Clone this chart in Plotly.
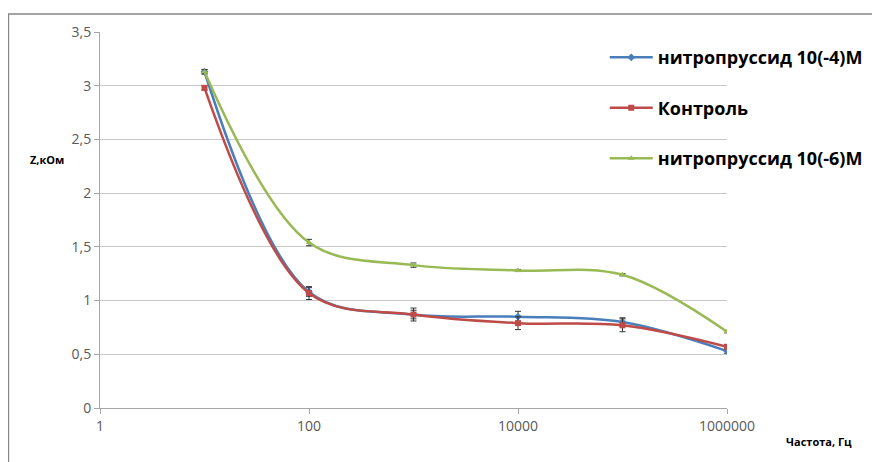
import plotly.graph_objects as go

freq = [10, 100, 1000, 10000, 100000, 1000000]
nitro4 = [3.13, 1.08, 0.87, 0.85, 0.80, 0.53]
control = [2.98, 1.07, 0.87, 0.79, 0.77, 0.57]
nitro6 = [3.13, 1.54, 1.33, 1.28, 1.24, 0.71]
err_nitro4 = [0.02, 0.04, 0.04, 0.05, 0.04, 0.02]
err_control = [0.02, 0.06, 0.06, 0.06, 0.06, 0.02]
err_nitro6 = [0.02, 0.03, 0.02, 0.01, 0.01, 0.01]

names = ["нитропруссид 10(-4)М", "Контроль", "нитропруссид 10(-6)М"]
colors = ["#4A7EBB", "#BE4B48", "#98B954"]
symbols = ["diamond", "square", "triangle-up"]

x_tickvals = [1, 100, 10000, 1000000]
x_ticktext = ["1", "100", "10000", "1000000"]

fig = go.Figure()
for i, (ys, es) in enumerate([(nitro4, err_nitro4), (control, err_control), (nitro6, err_nitro6)]):
    fig.add_trace(go.Scatter(
        x=freq, y=ys, name=names[i], mode="lines+markers",
        line=dict(color=colors[i], width=2.5, shape="spline", smoothing=1.0),
        marker=dict(color=colors[i], symbol=symbols[i], size=6),
        error_y=dict(type="data", array=es, visible=True, color="#333333", thickness=1, width=3),
        legendgroup=f"g{i}",
    ))

fig.update_layout(
    width=872, height=454,
    margin=dict(l=92, r=150, t=24, b=54),
    paper_bgcolor="white", plot_bgcolor="white",
    separators=", ",
    font=dict(family="Open Sans, DejaVu Sans, sans-serif", color="#595959", size=14),
    showlegend=True,
    legend=dict(x=0.805, y=0.981, xanchor="left", yanchor="top",
                bgcolor="rgba(0,0,0,0)", tracegroupgap=24, itemwidth=43,
                font=dict(family="Open Sans, DejaVu Sans, sans-serif", size=18, color="#000000", weight="bold")),
    xaxis=dict(type="log", range=[0, 6], tickvals=x_tickvals, ticktext=x_ticktext,
               showgrid=False, showline=True, linecolor="#A6A6A6", linewidth=1,
               ticks="outside", ticklen=5, tickcolor="#A6A6A6", zeroline=False),
    yaxis=dict(range=[0, 3.5], dtick=0.5, tick0=0, showgrid=True, gridcolor="#C8C8C8",
               showline=True, linecolor="#A6A6A6", linewidth=1,
               ticks="outside", ticklen=5, tickcolor="#A6A6A6", zeroline=False),
    shapes=[dict(type="rect", xref="paper", yref="paper", x0=-0.146, y0=-0.17, x1=1.25, y1=1.048,
                 line=dict(color="#868686", width=1.5), fillcolor="rgba(0,0,0,0)", layer="below")],
    annotations=[
        dict(text="Z,кОм", xref="paper", yref="paper", x=-0.084, y=0.66, xanchor="center", yanchor="middle",
             showarrow=False, font=dict(size=11, color="#000000", weight="bold")),
        dict(text="Частота, Гц", xref="paper", yref="paper", x=1.146, y=-0.088, xanchor="center", yanchor="middle",
             showarrow=False, font=dict(size=11, color="#000000", weight="bold")),
    ],
)

fig.write_html("out.html")
